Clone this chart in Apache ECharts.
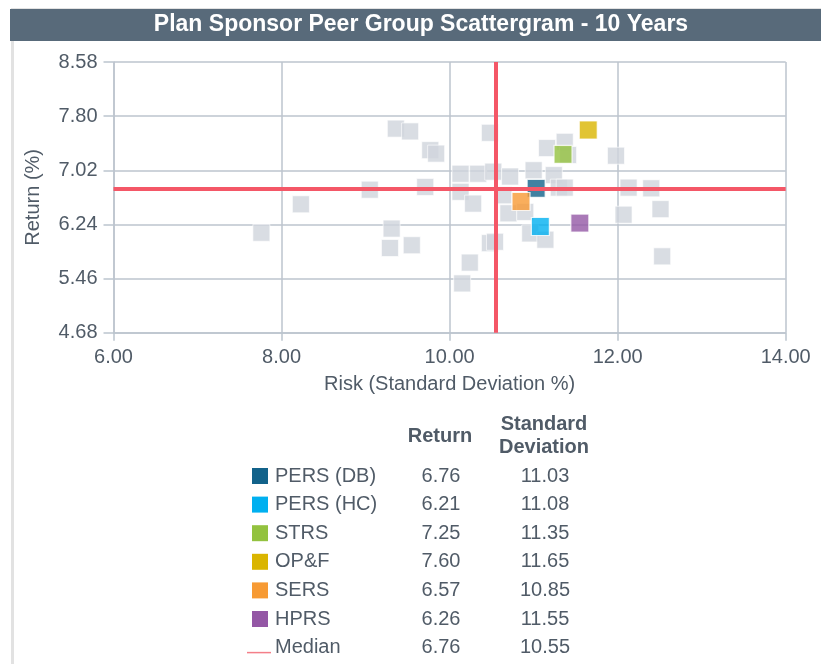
<!DOCTYPE html>
<html>
<head>
<meta charset="utf-8">
<script src="https://cdn.jsdelivr.net/npm/echarts@6/dist/echarts.min.js"></script>
<style>
  html, body { margin: 0; padding: 0; background: #fff; }
  #scatter { width: 821px; height: 664px; }
</style>
</head>
<body>
<div id="scatter"></div>
<script>
// peer group points (risk = std dev %, return %)
var peerRisk   = [7.76, 8.23, 9.05, 9.36, 9.53, 9.77, 9.84, 9.71, 9.31, 9.29, 9.55, 10.48,
                  11.37, 11.16, 11.41, 11.98, 10.13, 10.34, 10.52, 10.72, 11.00, 11.24, 11.30, 11.37,
                  10.13, 10.28, 10.64, 10.70, 10.90, 12.13, 12.40, 12.07, 12.51, 10.96, 11.14,
                  10.48, 10.54, 10.24, 10.15, 12.53];
var peerReturn = [6.12, 6.53, 6.74, 7.62, 7.58, 7.31, 7.26, 6.78, 6.18, 5.90, 5.94, 7.56,
                  7.43, 7.34, 7.24, 7.23, 6.97, 6.97, 7.00, 6.93, 7.02, 6.95, 6.77, 6.77,
                  6.71, 6.54, 6.66, 6.40, 6.42, 6.77, 6.76, 6.38, 6.46, 6.11, 6.02,
                  5.97, 5.99, 5.69, 5.39, 5.78];

// plans shown in the table
var planNames  = ['PERS (DB)', 'PERS (HC)', 'STRS', 'OP&F', 'SERS', 'HPRS'];
var planReturn = [6.76, 6.21, 7.25, 7.60, 6.57, 6.26];
var planStdDev = [11.03, 11.08, 11.35, 11.65, 10.85, 11.55];
var planColors = ['#12628a', '#00b0f0', '#93c23f', '#dab500', '#f79a33', '#9457a5'];

var medianReturn = 6.76;
var medianStdDev = 10.55;

var yTicks = [4.68, 5.46, 6.24, 7.02, 7.80, 8.58];
var xTicks = [6, 8, 10, 12, 14];

var textColor = '#505b67';
var gridColor = '#bcc5ce';
var fontFam = '"Liberation Sans", Arial, sans-serif';

var chart = echarts.init(document.getElementById('scatter'));

var peerData = [];
for (var i = 0; i < peerRisk.length; i++) {
	peerData.push([peerRisk[i], peerReturn[i]]);
}

var series = [{
	name: 'Peer Group',
	type: 'scatter',
	symbol: 'rect',
	symbolSize: 17,
	z: 2,
	itemStyle: { color: '#cfd4dc', borderColor: '#fff', borderWidth: 0.8 },
	data: peerData
}];

planNames.forEach(function(n, k) {
	series.push({
		name: n,
		type: 'scatter',
		symbol: 'rect',
		symbolSize: 18,
		z: 3,
		itemStyle: { color: planColors[k], borderColor: '#fff', borderWidth: 1.2 },
		data: [[planStdDev[k], planReturn[k]]]
	});
});

// median cross lines
series.push({
	name: 'Median',
	type: 'scatter',
	data: [],
	z: 5,
	markLine: {
		silent: true,
		symbol: 'none',
		label: { show: false },
		lineStyle: { color: '#f45767', width: 4, type: 'solid' },
		data: [{ xAxis: medianStdDev }, { yAxis: medianReturn }]
	}
});

// title bar + table below chart
var graphic = [
	{ type: 'rect', left: 10, top: 7, shape: { width: 830, height: 700 },
	  style: { fill: 'none', stroke: '#e2e2e2', lineWidth: 3 }, z: -1 },
	{ type: 'rect', left: 10, top: 9, shape: { width: 830, height: 32 },
	  style: { fill: '#586a7a' } },
	{ type: 'text', x: 421, y: 25,
	  style: { text: 'Plan Sponsor Peer Group Scattergram - 10 Years', fill: '#fff',
	           font: 'bold 23px ' + fontFam, align: 'center', verticalAlign: 'middle' } },
	{ type: 'text', x: 440, y: 436,
	  style: { text: 'Return', fill: textColor, font: 'bold 20px ' + fontFam,
	           align: 'center', verticalAlign: 'middle' } },
	{ type: 'text', x: 544, y: 436,
	  style: { text: 'Standard\nDeviation', fill: textColor, font: 'bold 20px ' + fontFam,
	           lineHeight: 23, align: 'center', verticalAlign: 'middle' } }
];

var rowNames = planNames.concat(['Median']);
var rowRet = planReturn.concat([medianReturn]);
var rowStd = planStdDev.concat([medianStdDev]);
rowNames.forEach(function(n, k) {
	var y = 476 + k * 28.6;
	if (k < planNames.length) {
		graphic.push({ type: 'rect', left: 252, top: y - 8, shape: { width: 16, height: 16 },
			style: { fill: planColors[k] } });
	} else {
		graphic.push({ type: 'line', shape: { x1: 247, y1: y + 5, x2: 271, y2: y + 5 },
			style: { stroke: '#f47f89', lineWidth: 1.5 } });
	}
	graphic.push({ type: 'text', x: 275, y: y,
		style: { text: n, fill: textColor, font: '20px ' + fontFam, verticalAlign: 'middle' } });
	graphic.push({ type: 'text', x: 441, y: y,
		style: { text: rowRet[k].toFixed(2), fill: textColor, font: '20px ' + fontFam,
		         align: 'center', verticalAlign: 'middle' } });
	graphic.push({ type: 'text', x: 545, y: y,
		style: { text: rowStd[k].toFixed(2), fill: textColor, font: '20px ' + fontFam,
		         align: 'center', verticalAlign: 'middle' } });
});

var option = {
	animation: false,
	backgroundColor: '#fff',
	grid: { left: 113.5, right: 35.3, top: 62, bottom: 331.3 },
	xAxis: {
		type: 'value',
		min: xTicks[0], max: xTicks[xTicks.length - 1], interval: 2,
		name: 'Risk (Standard Deviation %)',
		nameLocation: 'middle', nameGap: 42,
		nameTextStyle: { color: textColor, fontSize: 20, fontFamily: fontFam },
		axisLine: { show: true, lineStyle: { color: gridColor, width: 1.5 } },
		axisTick: { show: true, length: 8, lineStyle: { color: gridColor, width: 1.5 } },
		axisLabel: { color: textColor, fontSize: 20, fontFamily: fontFam, margin: 15,
			formatter: function(v) { return v.toFixed(2); } },
		splitLine: { show: true, lineStyle: { color: gridColor, width: 1.5 } }
	},
	yAxis: {
		type: 'value',
		min: yTicks[0], max: yTicks[yTicks.length - 1], interval: 0.78,
		name: 'Return (%)',
		nameLocation: 'middle', nameGap: 70,
		nameTextStyle: { color: textColor, fontSize: 20, fontFamily: fontFam },
		axisLine: { show: true, lineStyle: { color: gridColor, width: 1.5 } },
		axisTick: { show: true, length: 10, lineStyle: { color: gridColor, width: 1.5 } },
		axisLabel: { color: textColor, fontSize: 20, fontFamily: fontFam, margin: 16,
			formatter: function(v) { return v.toFixed(2); } },
		splitLine: { show: true, lineStyle: { color: gridColor, width: 1.5 } }
	},
	graphic: graphic,
	series: series
};

chart.setOption(option);
</script>
</body>
</html>
